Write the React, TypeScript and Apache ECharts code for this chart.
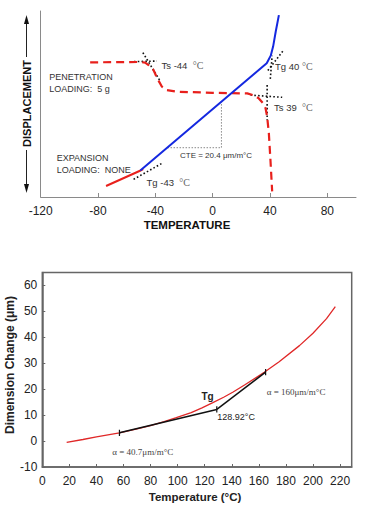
import React, { useEffect, useRef } from "react";
import * as echarts from "echarts";

// ---------- Top chart (TMA) ----------
const topXTicks = [-120, -80, -40, 0, 40, 80];
const expansionBlue = [
  [-50.5, 14.3], [37.7, 71.9], [40.5, 76], [42.2, 81], [44, 89], [46.2, 97.8],
];
const expansionRed = [
  [-74.4, 5.9], [-50.7, 14.1], [-48.5, 15],
];
const penetrationRed = [
  [-85.5, 72.4], [-50.6, 72.6], [-47.1, 72.2], [-44.5, 70.8], [-41.3, 68.3],
  [-38.5, 63.5], [-35.4, 59.3], [-31.9, 57.5], [-24.9, 56.6], [0, 56.0],
  [24.1, 55.7], [29, 54.6], [32.2, 53.0], [35, 50.5], [36.9, 47.7],
  [38.0, 43.2], [39.2, 34.2], [40.3, 20], [41.5, 3.0],
];
const tangentDots = [
  [[-57.6, 72.7], [-38.9, 73.1]],
  [[-48.7, 77.6], [-37.1, 62.9]],
  [[-55.2, 9.5], [-35.4, 18.1]],
  [[38.5, 68], [49.7, 79.2]],
  [[40.2, 63.5], [41.5, 76]],
  [[26.4, 54.8], [48.5, 53.6]],
  [[38.0, 60.2], [38.0, 41.4]],
];
const cteGuide = [[-31.5, 26.5], [6.1, 26.5], [6.1, 51]];

// ---------- Bottom chart (dimension change) ----------
const botXTicks = [0, 20, 40, 60, 80, 100, 120, 140, 160, 180, 200, 220];
const botYTicks = [-10, 0, 10, 20, 30, 40, 50, 60];
const dimCurve = [
  [18, -0.5], [30, 0.6], [40, 1.6], [57, 3.2], [70, 4.7], [80, 6.0],
  [90, 7.5], [99, 9.0], [110, 11.0], [118, 12.8], [126, 14.8], [134, 16.9],
  [141, 18.9], [150, 21.8], [164, 26.5], [175, 30.6], [190, 36.8],
  [200, 41.6], [210, 47.2], [216.5, 51.8],
];
const tangentLow = [[57, 3.2], [128.92, 12.2]];
const tangentHigh = [[128.92, 12.2], [165, 26.6]];
const endMarks = [
  [[57, 2.0], [57, 4.4]],
  [[128.92, 11.0], [128.92, 13.4]],
  [[165, 25.4], [165, 27.8]],
];

const SANS = "'Liberation Sans', Arial, Helvetica, sans-serif";
const SERIF = "'Liberation Serif', 'Times New Roman', serif";

export default function App() {
  const ref = useRef<HTMLDivElement>(null);
  useEffect(() => {
    if (!ref.current) return;
    const chart = echarts.init(ref.current, null, { renderer: "svg" });

    const seg = (data: number[][], color: string, width: number, type: any, x: number) => ({
      type: "line",
      xAxisIndex: x,
      yAxisIndex: x,
      data,
      symbol: "none",
      silent: true,
      lineStyle: { color, width, type },
    });

    const series: any[] = [
      seg(cteGuide, "#888", 1, [1.5, 1.5], 0),
      ...tangentDots.map((d) => seg(d, "#111", 1.6, [1.6, 2.2], 0)),
      seg(penetrationRed, "#e8201c", 2.2, [8, 5], 0),
      seg(expansionRed, "#e8201c", 2, "solid", 0),
      seg(expansionBlue, "#1428e0", 2, "solid", 0),
      seg(dimCurve, "#e02828", 1.3, "solid", 1),
      seg(tangentLow, "#111", 1.5, "solid", 1),
      seg(tangentHigh, "#111", 1.5, "solid", 1),
      ...endMarks.map((d) => seg(d, "#111", 1.2, "solid", 1)),
    ];

    const annot = (text: string, x: number, y: number, size: number, extra: any = {}) => ({
      type: "text",
      x,
      y,
      silent: true,
      style: {
        text,
        fontSize: size,
        fontFamily: SANS,
        fill: "#333",
        align: "left",
        verticalAlign: "middle",
        ...extra,
      },
    });
    const degRich = {
      rich: {
        s: { fontFamily: SERIF, fontSize: 10, fill: "#666" },
      },
    };

    const graphic: any[] = [
      {
        type: "text",
        x: 26.5,
        y: 103.5,
        rotation: Math.PI / 2,
        style: {
          text: "DISPLACEMENT",
          fontSize: 11,
          fontWeight: "bold",
          fontFamily: SANS,
          fill: "#111",
          align: "center",
          verticalAlign: "middle",
        },
      },
      { type: "line", shape: { x1: 26.5, y1: 22, x2: 26.5, y2: 57 }, style: { stroke: "#222", lineWidth: 1 } },
      { type: "line", shape: { x1: 26.5, y1: 150, x2: 26.5, y2: 186 }, style: { stroke: "#222", lineWidth: 1 } },
      { type: "polygon", shape: { points: [[26.5, 15], [24, 24], [29, 24]] }, style: { fill: "#111" } },
      { type: "polygon", shape: { points: [[26.5, 193], [24, 184], [29, 184]] }, style: { fill: "#111" } },
      {
        type: "text",
        x: 187,
        y: 225,
        style: {
          text: "TEMPERATURE",
          fontSize: 11.5,
          fontWeight: "bold",
          fontFamily: SANS,
          fill: "#111",
          align: "center",
          verticalAlign: "middle",
        },
      },
      annot("Ts -44  {s|°C}", 161.5, 65, 9.5, degRich),
      annot("PENETRATION", 49.3, 76.7, 9),
      annot("LOADING:  5 g", 49.3, 89.3, 9),
      annot("Tg 40 {s|°C}", 275, 66, 9.5, degRich),
      annot("Ts 39  {s|°C}", 274, 107.3, 9.5, degRich),
      annot("CTE = 20.4 μm/m°C", 180, 155, 8),
      annot("EXPANSION", 56.7, 158.3, 9),
      annot("LOADING:  NONE", 56.7, 170, 9),
      annot("Tg -43  {s|°C}", 146.5, 182.7, 9.5, degRich),
      annot("Tg", 201.5, 396.5, 10, { fontWeight: "bold", fill: "#222" }),
      annot("128.92°C", 217.3, 417.3, 9, { fill: "#222" }),
      annot("α = 160μm/m°C", 266.7, 391.7, 9, { fontFamily: SERIF, fill: "#444" }),
      annot("α = 40.7μm/m°C", 112.3, 452.3, 9, { fontFamily: SERIF, fill: "#444" }),
      {
        type: "text",
        x: 10,
        y: 365,
        rotation: Math.PI / 2,
        style: {
          text: "Dimension Change (μm)",
          fontSize: 12,
          fontWeight: "bold",
          fontFamily: SANS,
          fill: "#222",
          align: "center",
          verticalAlign: "middle",
        },
      },
      {
        type: "text",
        x: 195,
        y: 497,
        style: {
          text: "Temperature (°C)",
          fontSize: 11.5,
          fontWeight: "bold",
          fontFamily: SANS,
          fill: "#222",
          align: "center",
          verticalAlign: "middle",
        },
      },
    ];

    chart.setOption({
      animation: false,
      backgroundColor: "#fff",
      grid: [
        { left: 40.7, top: 11, width: 315.3, height: 186, containLabel: false },
        {
          left: 42.3,
          top: 272.5,
          width: 309.4,
          height: 194.5,
          show: true,
          borderColor: "#666",
          borderWidth: 1.5,
          containLabel: false,
        },
      ],
      xAxis: [
        {
          type: "value",
          gridIndex: 0,
          min: -120,
          max: 100,
          interval: 40,
          axisLine: { show: true, onZero: false, lineStyle: { color: "#8a8a8a", width: 1 } },
          axisTick: {
            show: true,
            inside: true,
            length: 4,
            customValues: topXTicks,
            lineStyle: { color: "#8a8a8a" },
          },
          axisLabel: {
            color: "#222",
            fontSize: 12,
            fontFamily: SANS,
            margin: 8,
            customValues: topXTicks,
            formatter: (v: number) => (topXTicks.includes(v) ? String(v) : ""),
          },
          splitLine: { show: false },
        },
        {
          type: "value",
          gridIndex: 1,
          min: 0,
          max: 228.6,
          interval: 20,
          axisLine: { show: true, onZero: false, lineStyle: { color: "#666", width: 1.5 } },
          axisTick: {
            show: true,
            inside: true,
            length: 3,
            customValues: botXTicks,
            lineStyle: { color: "#666" },
          },
          axisLabel: {
            color: "#222",
            fontSize: 12,
            fontFamily: SANS,
            margin: 8,
            customValues: botXTicks,
            formatter: (v: number) => (botXTicks.includes(v) ? String(v) : ""),
          },
          splitLine: { show: false },
        },
      ],
      yAxis: [
        {
          type: "value",
          gridIndex: 0,
          min: 0,
          max: 100,
          axisLine: { show: true, onZero: false, lineStyle: { color: "#8a8a8a", width: 1 } },
          axisTick: { show: false },
          axisLabel: { show: false },
          splitLine: { show: false },
        },
        {
          type: "value",
          gridIndex: 1,
          min: -10,
          max: 65,
          interval: 10,
          axisLine: { show: true, onZero: false, lineStyle: { color: "#666", width: 1.5 } },
          axisTick: {
            show: true,
            inside: true,
            length: 3,
            customValues: botYTicks,
            lineStyle: { color: "#666" },
          },
          axisLabel: {
            color: "#222",
            fontSize: 12,
            fontFamily: SANS,
            margin: 5,
            customValues: botYTicks,
            formatter: (v: number) => (botYTicks.includes(v) ? String(v) : ""),
          },
          splitLine: { show: false },
        },
      ],
      series,
      graphic,
    });

    return () => chart.dispose();
  }, []);

  return (
    <div
      ref={ref}
      style={{ position: "absolute", left: 0, top: 0, width: 367, height: 511, background: "#fff" }}
    />
  );
}
